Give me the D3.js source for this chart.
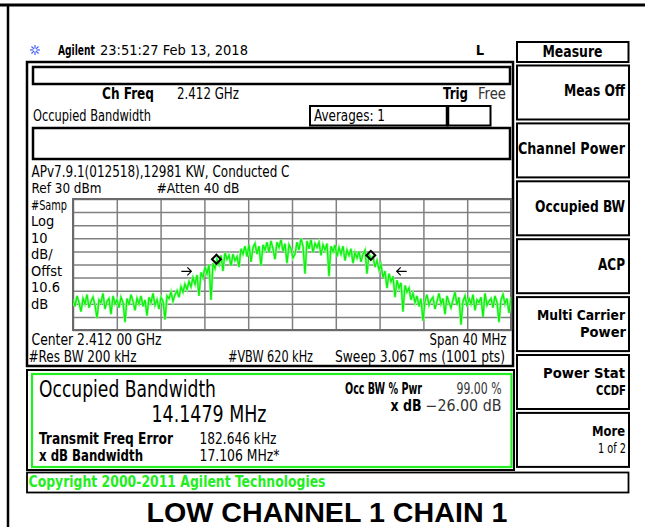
<!DOCTYPE html>
<html>
<head>
<meta charset="utf-8">
<script src="https://cdn.jsdelivr.net/npm/d3@7"></script>
<style>
  html, body { margin: 0; padding: 0; background: #fff; }
  svg { display: block; }
  text { font-family: "Liberation Sans Narrow", "DejaVu Sans Condensed", sans-serif; }
</style>
</head>
<body>
<svg id="chart" width="645" height="527"></svg>
<script>
// Sweep settings (MHz / dBm)
const startFreq = 2392;
const stopFreq = 2432;
const refLevel = 30;
const bottomLevel = -70;
const gridDivisions = 10;

// Trace levels in dBm, evenly spaced from start to stop
const traceLevels = [
  -47, -52, -44, -49, -56, -46, -50, -43, -53, -48,
  -45, -51, -61, -47, -49, -42, -54, -48, -46, -58,
  -44, -50, -47, -53, -45, -49, -64, -46, -51, -43,
  -48, -55, -46, -50, -44, -52, -47, -59, -45, -49,
  -42, -51, -47, -54, -45, -48, -62, -44,
  -46, -41, -48, -43, -40, -45, -37, -41, -35, -39,
  -33, -37, -30, -35, -28, -44, -26, -30, -22, -27,
  -20, -47, -19, -23, -16, -20, -13, -25, -11, -16,
  -13, -21, -12, -17, -14, -22, -8,
  -12, -6, -14, -5, -18, -7, -4, -12, -6, -21,
  -5, -9, -3, -11, -2, -8, -16, -3, -7, -1,
  -10, -4, -19, -5, -8, -15, -12, -3, -9, 0,
  -6, -27, -2, -8, -1, -11, -4, -7, -3, -13,
  -5, -9, -4, -29, -6, -10, -5, -14, -7, -12,
  -6, -17, -9, -13, -8, -19, -11, -15, -10, -18,
  -12, -9, -27, -12, -16, -14, -22, -17, -24,
  -20, -30, -25, -38, -27, -33, -29, -45, -32, -38,
  -34, -56, -36, -41, -38, -47, -42,
  -49, -44, -52, -46, -63, -48, -43, -51, -47,
  -45, -54, -48, -42, -50, -46, -58, -44, -49, -53,
  -47, -41, -51, -45, -66, -48, -44, -52, -46, -50,
  -43, -55, -47, -49, -45, -60, -42, -51, -48, -46,
  -53, -44, -49, -64, -47, -43, -50, -46, -57, -45
];

// OBW markers (diamonds) and x dB bandwidth markers (arrows)
const obwMarkerFreqs = [2405.1, 2419.2];
const obwMarkerLevels = [-16, -13];
const xdbMarkerFreqs = [2403.63, 2420.74];
const xdbLevel = -26;

const leftAnnotations = ['#Samp', 'Log', '10', 'dB/', 'Offst', '10.6', 'dB'];
const softkeys = [
  ['Meas Off'], ['Channel Power'], ['Occupied BW'], ['ACP'],
  ['Multi Carrier', 'Power'], ['Power Stat', 'CCDF'], ['More', '1 of 2']
];

// label widths on the softkeys, in px (layout only)
const softkeyWidths = [[61], [107], [90], [27], [88, 46], [82, 30], [33, 28]];

const svg = d3.select('#chart');

function label(txt, x, y, o = {}) {
  const t = svg.append('text')
    .attr('x', x)
    .attr('y', y)
    .attr('font-size', o.size || 15.5)
    .attr('font-weight', o.bold ? 'bold' : null)
    .attr('text-anchor', o.anchor || 'start')
    .attr('fill', o.fill || '#000')
    .text(txt);
  if (o.family) t.style('font-family', o.family);
  if (o.w) t.attr('textLength', o.w).attr('lengthAdjust', 'spacingAndGlyphs');
  return t;
}

// squeeze a label horizontally to a given width with a real transform
function squeezed(txt, x, y, width, o = {}) {
  const t = svg.append('text')
    .attr('font-size', o.size || 14)
    .attr('font-weight', o.bold ? 'bold' : null)
    .text(txt);
  const natural = t.node().getComputedTextLength();
  t.attr('transform', `translate(${x},${y}) scale(${width / natural},1)`);
  return t;
}

function box(x, y, w, h, sw = 2, stroke = '#000') {
  return svg.append('rect')
    .attr('x', x).attr('y', y).attr('width', w).attr('height', h)
    .attr('fill', 'none').attr('stroke', stroke).attr('stroke-width', sw);
}

// Page border
svg.append('line').attr('x1', 0).attr('x2', 645).attr('y1', 5).attr('y2', 5)
  .attr('stroke', '#000').attr('stroke-width', 3);
svg.append('line').attr('x1', 8).attr('x2', 8).attr('y1', 5).attr('y2', 527)
  .attr('stroke', '#000').attr('stroke-width', 2.5);

// Agilent spark logo
const spark = svg.append('g').attr('transform', 'translate(35,50)');
d3.range(8).forEach(k => {
  const a = k * Math.PI / 4;
  spark.append('line')
    .attr('x1', Math.cos(a) * 1.5).attr('y1', Math.sin(a) * 1.5)
    .attr('x2', Math.cos(a) * 5).attr('y2', Math.sin(a) * 5)
    .attr('stroke', '#4060ff').attr('stroke-width', 1.2);
});

// Header
squeezed('Agilent', 58, 55, 37, { bold: true });
squeezed('23:51:27  Feb 13, 2018', 100, 55, 148);
label('L', 480, 55, { size: 14.5, bold: true, anchor: 'middle' });

// Screen frame and status boxes
box(27, 62, 486, 304, 2.5);
box(33, 67, 477, 17, 2.5);
label('Ch Freq', 102, 99, { bold: true, w: 52 });
label('2.412 GHz', 177, 99, { w: 62 });
label('Trig', 443, 99, { bold: true, w: 25 });
label('Free', 478, 99, { w: 28, fill: '#333' });
label('Occupied Bandwidth', 33, 121, { w: 118 });
box(310, 106, 137.5, 19.5, 2);
box(447.5, 106, 43, 19.5, 2);
svg.append('line').attr('x1', 447.5).attr('x2', 447.5).attr('y1', 106).attr('y2', 125.5)
  .attr('stroke', '#000').attr('stroke-width', 3.5);
label('Averages: 1', 314, 120.5, { w: 71 });
box(33, 128, 477, 31, 2.5);

label('APv7.9.1(012518),12981 KW, Conducted C', 31.5, 176.5, { w: 258 });
label('Ref 30 dBm', 31.5, 192.5, { size: 14.5, w: 70 });
label('#Atten 40 dB', 156.5, 192.5, { size: 14.5, w: 83 });
leftAnnotations.forEach((s, i) => {
  label(s, 31, 209.5 + i * 16.5, s === '#Samp' ? { size: 14.5, w: 36 } : { size: 14.5 });
});

// Spectrum plot
const plot = { left: 73, right: 511, top: 199, bottom: 330 };
const x = d3.scaleLinear().domain([startFreq, stopFreq]).range([plot.left, plot.right]);
const y = d3.scaleLinear().domain([bottomLevel, refLevel]).range([plot.bottom, plot.top]);

const freqStep = (stopFreq - startFreq) / gridDivisions;
const levelStep = (refLevel - bottomLevel) / gridDivisions;

const grid = svg.append('g').attr('class', 'graticule');
grid.append('g')
  .attr('transform', `translate(0,${plot.bottom})`)
  .call(d3.axisBottom(x)
    .tickValues(d3.range(gridDivisions + 1).map(i => startFreq + i * freqStep))
    .tickSize(-(plot.bottom - plot.top))
    .tickFormat(''))
  .call(g => g.select('.domain').remove());
grid.append('g')
  .attr('transform', `translate(${plot.left},0)`)
  .call(d3.axisLeft(y)
    .tickValues(d3.range(gridDivisions + 1).map(i => bottomLevel + i * levelStep))
    .tickSize(-(plot.right - plot.left))
    .tickFormat(''))
  .call(g => g.select('.domain').remove());
grid.selectAll('line').attr('stroke', '#808080').attr('stroke-width', 1.5);
svg.append('rect')
  .attr('x', plot.left).attr('y', plot.top)
  .attr('width', plot.right - plot.left).attr('height', plot.bottom - plot.top)
  .attr('fill', 'none').attr('stroke', '#6a6a6a').attr('stroke-width', 2);

svg.append('clipPath').attr('id', 'plot-clip')
  .append('rect')
  .attr('x', plot.left).attr('y', plot.top)
  .attr('width', plot.right - plot.left).attr('height', plot.bottom - plot.top);

const traceStep = (stopFreq - startFreq) / (traceLevels.length - 1);
const line = d3.line()
  .x((d, i) => x(startFreq + i * traceStep))
  .y(d => y(d));
// soft halo, then the trace itself
svg.append('path')
  .datum(traceLevels)
  .attr('clip-path', 'url(#plot-clip)')
  .attr('fill', 'none')
  .attr('stroke', '#8cff8c')
  .attr('stroke-width', 2.6)
  .attr('d', line);
svg.append('path')
  .datum(traceLevels)
  .attr('clip-path', 'url(#plot-clip)')
  .attr('fill', 'none')
  .attr('stroke', '#10ee10')
  .attr('stroke-width', 1.3)
  .attr('d', line);

// OBW diamonds
svg.selectAll('.obw-marker')
  .data(obwMarkerFreqs)
  .join('path')
  .attr('class', 'obw-marker')
  .attr('transform', (d, i) => `translate(${x(d)},${y(obwMarkerLevels[i])}) rotate(45)`)
  .attr('d', d3.symbol(d3.symbolSquare, 40)())
  .attr('fill', 'none')
  .attr('stroke', '#000')
  .attr('stroke-width', 2);

// x dB arrows pointing in at the band edges
xdbMarkerFreqs.forEach((f, i) => {
  const dir = i === 0 ? 1 : -1;
  const tipX = x(f) - dir * 9;
  const yy = y(xdbLevel) - 1;
  svg.append('path')
    .attr('d', `M${tipX - dir * 10},${yy}H${tipX}M${tipX - dir * 4},${yy - 4}L${tipX},${yy}L${tipX - dir * 4},${yy + 4}`)
    .attr('fill', 'none')
    .attr('stroke', '#000')
    .attr('stroke-width', 1.2);
});

label('Center 2.412 00 GHz', 31.5, 345, { w: 130 });
label('Span 40 MHz', 506.5, 345, { anchor: 'end', w: 77 });
label('#Res BW 200 kHz', 28.5, 362, { w: 108 });
label('#VBW 620 kHz', 228, 362, { w: 85 });
label('Sweep 3.067 ms (1001 pts)', 505, 362, { anchor: 'end', w: 170 });

// Result panel
box(27, 370, 487, 100, 2);
box(32, 374, 479.5, 93, 2.2, '#22ee22');
label('Occupied Bandwidth', 39, 396.5, { size: 23, w: 177 });
label('14.1479 MHz', 151.5, 421.5, { size: 23, w: 115 });
label('Transmit Freq Error', 39, 444, { bold: true, w: 134 });
label('182.646 kHz', 199.5, 444, { w: 77 });
label('x dB Bandwidth', 39, 460.5, { bold: true, w: 104 });
label('17.106 MHz*', 199.5, 460.5, { w: 80 });
label('Occ BW % Pwr', 345, 393.5, { bold: true, w: 77 });
label('99.00 %', 501.5, 393.5, { anchor: 'end', w: 45, fill: '#333' });
label('x dB', 421.5, 410.5, { bold: true, anchor: 'end', w: 31 });
label('\u221226.00 dB', 501.5, 410.5, { anchor: 'end', w: 76, fill: '#333' });

// Copyright bar
box(27, 472.5, 601.5, 20, 1.8);
label('Copyright 2000-2011 Agilent Technologies', 28.5, 487, { bold: true, fill: '#22ee22', w: 297 });

// Softkey menu
box(517, 42, 111.5, 20, 2);
label('Measure', 572.5, 56.5, { bold: true, anchor: 'middle', w: 60 });
softkeys.forEach((lines, k) => {
  const top = 65.5 + k * 57.9;
  const widths = softkeyWidths[k];
  box(517, top, 112, 54, 2);
  if (lines.length === 1) {
    label(lines[0], 625, top + 30.5, { bold: true, anchor: 'end', size: 15, w: widths[0] });
  } else {
    const plain = lines[1] === '1 of 2';
    label(lines[0], 625, top + 23, { bold: true, anchor: 'end', size: 14.5, w: widths[0] });
    label(lines[1], 626, top + 40, { bold: !plain, anchor: 'end', size: 14.5, w: widths[1] });
  }
});

// Caption
label('LOW CHANNEL 1 CHAIN 1', 327, 522, {
  size: 28, bold: true, anchor: 'middle', w: 361,
  family: '"Liberation Sans", Arial, sans-serif'
});
</script>
</body>
</html>
